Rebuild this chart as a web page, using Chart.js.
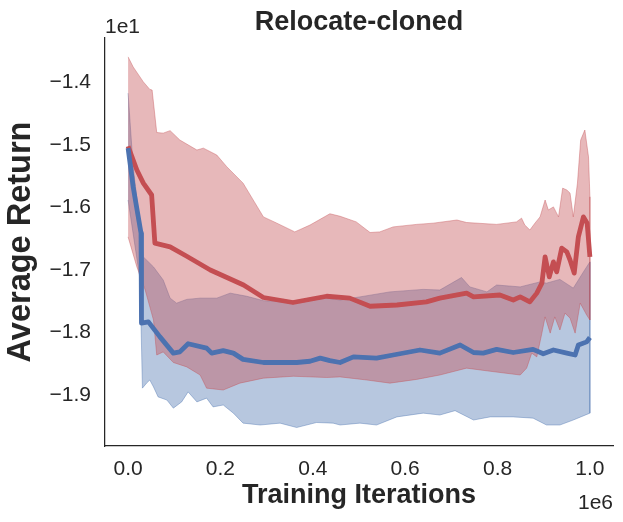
<!DOCTYPE html>
<html>
<head>
<meta charset="utf-8">
<script src="https://cdn.jsdelivr.net/npm/chart.js@4.4.1/dist/chart.umd.min.js"></script>
<style>
  body { margin: 0; background: #fff; }
  #wrap { width: 623px; height: 522px; }
</style>
</head>
<body>
<div id="wrap"><canvas id="relocate"></canvas></div>
<script>
// [iteration, return] pairs
var redMean = [[0,-15.02],[19000,-15.40],[33000,-15.61],[51000,-15.80],[58000,-16.57],[91000,-16.63],[127000,-16.78],
  [178000,-17.00],[250000,-17.24],[293000,-17.44],[357000,-17.52],[430000,-17.42],[480000,-17.45],[524000,-17.58],
  [582000,-17.56],[646000,-17.51],[675000,-17.45],[733000,-17.37],[748000,-17.43],[805000,-17.40],[834000,-17.48],
  [849000,-17.43],[870000,-17.51],[885000,-17.37],[896000,-17.21],[903000,-16.79],[912000,-17.11],[921000,-16.87],
  [928000,-17.03],[939000,-16.65],[950000,-16.71],[957000,-16.84],[966000,-17.05],[975000,-16.47],[986000,-16.15],
  [994000,-16.25],[1000000,-16.79]];
var redUpper = [[0,-13.59],[11000,-13.75],[33000,-13.99],[47000,-14.11],[52000,-14.12],[62000,-14.80],[76000,-14.81],
  [91000,-14.77],[112000,-14.92],[149000,-15.08],[163000,-15.05],[192000,-15.16],[214000,-15.35],[249000,-15.61],
  [293000,-16.15],[322000,-16.25],[361000,-16.39],[394000,-16.28],[437000,-16.10],[459000,-16.14],[494000,-16.23],
  [524000,-16.40],[545000,-16.39],[574000,-16.31],[625000,-16.27],[661000,-16.25],[712000,-16.20],[733000,-16.24],
  [798000,-16.27],[841000,-16.23],[852000,-16.17],[859000,-16.28],[870000,-16.36],[881000,-16.25],[892000,-16.15],
  [903000,-15.88],[910000,-16.04],[921000,-15.99],[932000,-16.15],[941000,-15.69],[950000,-15.72],[957000,-15.77],
  [964000,-16.15],[973000,-15.61],[980000,-14.92],[989000,-14.76],[997000,-15.19],[1000000,-15.83]];
var redLower = [[0,-16.47],[19000,-16.95],[37000,-17.32],[55000,-17.80],[62000,-18.36],[76000,-18.31],[98000,-18.48],
  [127000,-18.55],[156000,-18.68],[170000,-18.89],[206000,-18.92],[242000,-18.81],[293000,-18.73],[358000,-18.70],
  [430000,-18.72],[459000,-18.71],[517000,-18.76],[567000,-18.81],[625000,-18.75],[675000,-18.68],[733000,-18.57],
  [784000,-18.62],[849000,-18.68],[863000,-18.57],[874000,-18.33],[885000,-18.39],[896000,-18.01],[903000,-17.75],
  [914000,-18.01],[924000,-17.75],[935000,-17.96],[946000,-17.69],[957000,-17.77],[968000,-18.01],[979000,-17.53],
  [993000,-17.72],[1000000,-17.80]];

var blueMean = [[0,-15.05],[11000,-15.67],[28000,-16.41],[29000,-17.85],[44000,-17.83],[69000,-18.07],[98000,-18.33],
  [112000,-18.31],[130000,-18.18],[170000,-18.25],[181000,-18.33],[206000,-18.29],[228000,-18.33],[249000,-18.43],
  [293000,-18.48],[365000,-18.48],[394000,-18.46],[416000,-18.41],[437000,-18.45],[459000,-18.48],[488000,-18.39],
  [538000,-18.41],[574000,-18.36],[632000,-18.28],[675000,-18.33],[719000,-18.20],[748000,-18.32],[769000,-18.33],
  [798000,-18.27],[834000,-18.32],[877000,-18.27],[899000,-18.34],[921000,-18.28],[950000,-18.33],[968000,-18.36],
  [975000,-18.20],[993000,-18.15],[1000000,-18.08]];
var blueUpper = [[0,-14.17],[11000,-15.35],[26000,-16.31],[33000,-16.79],[55000,-16.95],[76000,-17.16],[91000,-17.45],
  [105000,-17.53],[127000,-17.47],[156000,-17.45],[192000,-17.45],[221000,-17.37],[257000,-17.42],[293000,-17.49],
  [358000,-17.52],[430000,-17.45],[459000,-17.48],[502000,-17.43],[567000,-17.35],[639000,-17.31],[675000,-17.32],
  [722000,-17.12],[740000,-17.27],[777000,-17.35],[798000,-17.24],[849000,-17.27],[892000,-17.19],[906000,-17.21],
  [935000,-17.15],[964000,-17.29],[986000,-17.03],[1000000,-16.87]];
var blueLower = [[0,-15.88],[26000,-17.16],[31000,-18.89],[40000,-18.81],[47000,-18.76],[55000,-18.87],[65000,-19.03],
  [84000,-19.08],[98000,-19.21],[116000,-19.11],[130000,-18.95],[149000,-19.11],[170000,-19.05],[184000,-19.19],
  [206000,-19.16],[228000,-19.29],[249000,-19.45],[286000,-19.48],[329000,-19.45],[365000,-19.52],[408000,-19.44],
  [444000,-19.45],[459000,-19.48],[502000,-19.45],[538000,-19.48],[582000,-19.35],[639000,-19.29],[675000,-19.32],
  [708000,-19.25],[748000,-19.40],[784000,-19.35],[834000,-19.35],[877000,-19.37],[906000,-19.48],[935000,-19.48],
  [964000,-19.40],[1000000,-19.29]];

var xTicks = [0, 200000, 400000, 600000, 800000, 1000000];
var yTicks = [-19, -18, -17, -16, -15, -14];

var textColor = '#262626';
var fontName = '"Liberation Sans", Arial, sans-serif';

function toPoints(arr) {
  return arr.map(function (p) { return {x: p[0], y: p[1]}; });
}
// closed polygon: upper edge forward, lower edge back
function band(upper, lower) {
  return toPoints(upper.concat(lower.slice().reverse()));
}

var offsetText = {
  id: 'offsetText',
  afterDraw: function (chart) {
    var ctx = chart.ctx;
    var a = chart.chartArea;
    ctx.save();
    ctx.fillStyle = textColor;
    ctx.textBaseline = 'alphabetic';
    ctx.font = 'bold 27px ' + fontName;
    ctx.textAlign = 'center';
    ctx.fillText('Relocate-cloned', (a.left + a.right) / 2, 30);
    ctx.font = '21px ' + fontName;
    ctx.textAlign = 'left';
    ctx.fillText('1e1', a.left, 33);
    ctx.textAlign = 'right';
    ctx.fillText('1e6', a.right, 509);
    ctx.restore();
  }
};

var lineStyle = {showLine: true, pointRadius: 0, pointHoverRadius: 0, tension: 0, borderJoinStyle: 'round'};

var chart = new Chart(document.getElementById('relocate'), {
  type: 'scatter',
  data: {
    datasets: [
      Object.assign({data: toPoints(blueMean), borderColor: '#4C72B0', borderWidth: 4.8, fill: false}, lineStyle),
      Object.assign({data: toPoints(redMean), borderColor: '#C44E52', borderWidth: 4.8, fill: false}, lineStyle),
      Object.assign({data: band(redUpper, redLower), borderColor: 'rgba(196,78,82,0.4)',
        backgroundColor: 'rgba(196,78,82,0.4)', borderWidth: 1, fill: 'shape'}, lineStyle),
      Object.assign({data: band(blueUpper, blueLower), borderColor: 'rgba(76,114,176,0.4)',
        backgroundColor: 'rgba(76,114,176,0.4)', borderWidth: 1, fill: 'shape'}, lineStyle)
    ]
  },
  options: {
    responsive: true,
    maintainAspectRatio: false,
    animation: false,
    layout: {padding: {top: 38, right: 10, left: 0, bottom: 0}},
    plugins: {legend: {display: false}, tooltip: {enabled: false}},
    scales: {
      x: {
        type: 'linear',
        min: -50000,
        max: 1050000,
        grid: {display: false, drawTicks: false},
        border: {display: true, color: textColor, width: 1.25},
        afterBuildTicks: function (s) { s.ticks = xTicks.map(function (v) { return {value: v}; }); },
        afterFit: function (s) { s.height = 76; },
        ticks: {
          padding: 11,
          color: textColor,
          font: {family: fontName, size: 21},
          maxRotation: 0,
          callback: function (v) { return (v / 1e6).toFixed(1); }
        },
        title: {display: true, text: 'Training Iterations', color: textColor,
          font: {family: fontName, size: 27, weight: 'bold'}, padding: {top: 0, bottom: 10}}
      },
      y: {
        min: -19.816,
        max: -13.288,
        grid: {display: false, drawTicks: false},
        border: {display: true, color: textColor, width: 1.25},
        afterBuildTicks: function (s) { s.ticks = yTicks.map(function (v) { return {value: v}; }); },
        afterFit: function (s) { s.width = 105; },
        ticks: {
          padding: 14,
          color: textColor,
          font: {family: fontName, size: 21},
          callback: function (v) { return '\u2212' + Math.abs(v / 10).toFixed(1); }
        },
        title: {display: true, text: 'Average Return', color: textColor,
          font: {family: fontName, size: 32.5, weight: 'bold'}, padding: {top: 1.5, bottom: 0}}
      }
    }
  },
  plugins: [offsetText]
});
</script>
</body>
</html>
